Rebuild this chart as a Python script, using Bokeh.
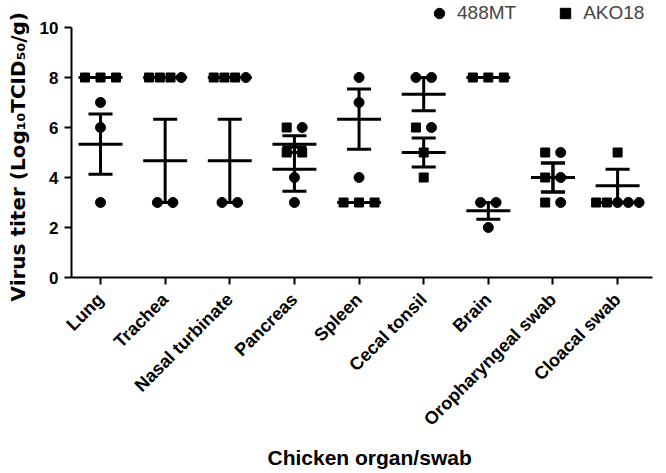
import numpy as np
from math import pi
from bokeh.plotting import figure
from bokeh.models import Range1d, FixedTicker, Legend, LegendItem, Title
from bokeh.embed import file_html
from bokeh.resources import INLINE

# ---------------- data ----------------
organs = ["Lung", "Trachea", "Nasal turbinate", "Pancreas", "Spleen",
          "Cecal tonsil", "Brain", "Oropharyngeal swab", "Cloacal swab"]
mt488 = [[7, 6, 3], [8, 3, 3], [8, 3, 3], [6, 4, 3], [8, 7, 4],
         [8, 8, 6], [3, 3, 2], [5, 4, 3], [3, 3, 3]]
ako18 = [[8, 8, 8], [8, 8, 8], [8, 8, 8], [6, 5, 5], [3, 3, 3],
         [6, 5, 4], [8, 8, 8], [5, 4, 3], [5, 3, 3]]
y_ticks = [0, 2, 4, 6, 8, 10]
x_title = "Chicken organ/swab"
y_title = "Virus titer (Log\u2081\u2080TCID\u2085\u2080/g)"

FONT = "Liberation Sans"
FW, FH = 581, 277          # frame reaches the top so the legend fits inside

# --------------- layout ---------------
p = figure(frame_width=FW, frame_height=FH, output_backend="svg",
           toolbar_location=None,
           x_range=Range1d(0.551, 9.54), y_range=Range1d(0, 11.08),
           min_border_left=66, min_border_right=19, min_border_top=0,
           min_border_bottom=196)
p.grid.visible = False
p.outline_line_color = None
p.background_fill_color = "white"
p.border_fill_color = "white"

# jitter points that share a value within a column (Prism-like spread)
def spread(n):
    if n == 1:
        return [0.0]
    step = 0.24 if n <= 3 else 0.166
    return [(i - (n - 1) / 2) * step for i in range(n)]

cx, cy, sx, sy = [], [], [], []
for i, (a, b) in enumerate(zip(mt488, ako18)):
    xc = i + 1
    for v in sorted(set(a) | set(b)):
        pts = ["s"] * b.count(v) + ["c"] * a.count(v)
        for kind, o in zip(pts, spread(len(pts))):
            if kind == "s":
                sx.append(xc + o); sy.append(v)
            else:
                cx.append(xc + o); cy.append(v)

# mean +/- SEM bars for each series
vx0, vy0, vy1 = [], [], []
hx0, hx1, hy = [], [], []
MEAN_HW, CAP_HW = 0.34, 0.186
for i, pair in enumerate(zip(mt488, ako18)):
    xc = i + 1
    for s in pair:
        arr = np.array(s, dtype=float)
        m = arr.mean()
        sem = arr.std(ddof=1) / np.sqrt(len(arr))
        hx0.append(xc - MEAN_HW); hx1.append(xc + MEAN_HW); hy.append(m)
        if sem > 0:
            vx0.append(xc); vy0.append(m - sem); vy1.append(m + sem)
            for yy in (m - sem, m + sem):
                hx0.append(xc - CAP_HW); hx1.append(xc + CAP_HW); hy.append(yy)

p.segment(x0=vx0, y0=vy0, x1=vx0, y1=vy1, line_color="black", line_width=3)
p.segment(x0=hx0, y0=hy, x1=hx1, y1=hy, line_color="black", line_width=3)

rc = p.scatter(cx, cy, marker="circle", size=10, color="black")
rs = p.scatter(sx, sy, marker="square", size=9, color="black")

# --------------- axes ---------------
xa = p.xaxis[0]
xa.ticker = FixedTicker(ticks=list(range(1, len(organs) + 1)))
xa.major_label_overrides = {i + 1: name for i, name in enumerate(organs)}
xa.major_label_orientation = pi / 4

ya = p.yaxis[0]
ya.ticker = FixedTicker(ticks=y_ticks)
ya.bounds = (y_ticks[0], y_ticks[-1])

for ax in (xa, ya):
    ax.axis_line_width = 2
    ax.axis_line_color = "black"
    ax.major_tick_line_width = 2
    ax.major_tick_line_color = "black"
    ax.major_tick_out = 7
    ax.major_tick_in = 0
    ax.minor_tick_line_color = None
    ax.major_label_text_font = FONT
    ax.major_label_text_font_style = "bold"
    ax.major_label_text_color = "black"
xa.major_label_text_font_size = "18px"
xa.major_label_standoff = 12
ya.major_label_text_font_size = "17px"
ya.major_label_standoff = 6

# axis titles as side-panel titles
p.add_layout(Title(text=x_title, align="left", offset=196, standoff=8,
                   text_font=FONT, text_font_style="bold",
                   text_font_size="21px", text_color="black"), "below")
p.add_layout(Title(text=y_title, align="left", offset=-24, standoff=10,
                   vertical_align="top",
                   text_font="DejaVu Sans", text_font_style="bold",
                   text_font_size="20px", text_color="black"), "left")

# --------------- legend (inside the frame, above the data) ---------------
legend = Legend(items=[LegendItem(label="488MT", renderers=[rc]),
                       LegendItem(label="AKO18", renderers=[rs])],
                orientation="horizontal", location=(355, 251),
                glyph_width=26, glyph_height=26, label_standoff=5, spacing=36,
                padding=0, margin=0, border_line_color=None,
                background_fill_alpha=0,
                label_text_font=FONT, label_text_font_size="19px")
p.add_layout(legend)

open("out.html", "w").write(file_html(p, INLINE))
